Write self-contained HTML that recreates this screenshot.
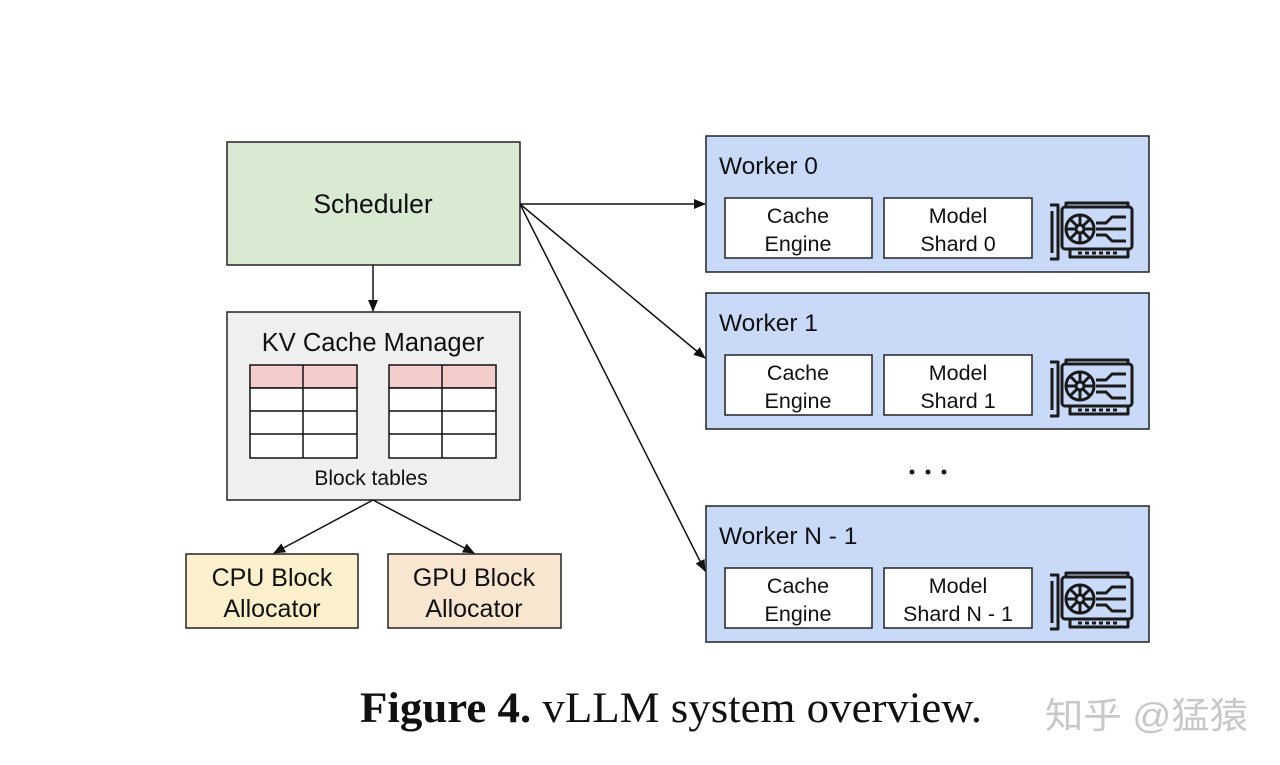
<!DOCTYPE html>
<html><head><meta charset="utf-8"><style>
html,body{margin:0;padding:0;background:#fff;}
svg{display:block;}
text{font-family:"Liberation Sans",Arial,sans-serif;fill:#111;}
</style></head><body>
<svg width="1280" height="765" viewBox="0 0 1280 765" xmlns="http://www.w3.org/2000/svg">
<defs>
<marker id="ah" markerWidth="12" markerHeight="10" refX="11" refY="5" orient="auto" markerUnits="userSpaceOnUse">
<path d="M0,0 L12,5 L0,10 Z" fill="#111"/>
</marker>
<g id="gpu" fill="none" stroke="#1a1a1a" stroke-width="3" stroke-linejoin="round">
<path d="M2,8 L10,8 L10,62 L2,62"/>
<path d="M4,14 L4,56"/>
<rect x="14" y="10" width="70" height="42" rx="3"/>
<path d="M18,10 L18,6 L80,6 L80,10"/>
<circle cx="32" cy="32" r="14"/>
<circle cx="32" cy="32" r="4"/>
<path d="M32,18 L32,28 M32,36 L32,46 M18,32 L28,32 M36,32 L46,32 M22,22 L29,29 M35,35 L42,42 M42,22 L35,29 M29,35 L22,42"/>
<path d="M48,26 L58,26 L64,20 L78,20 M48,32 L78,32 M48,38 L58,38 L64,44 L78,44"/>
<path d="M22,52 L22,60 L80,60 L80,52"/>
<path d="M30,56 L70,56" stroke-dasharray="4 3"/>
</g>
</defs>

<rect x="227" y="142" width="293" height="123" fill="#d9ead3" stroke="#222" stroke-width="1.5"/>
<text x="373" y="213" font-size="26.5" text-anchor="middle">Scheduler</text>

<rect x="227" y="312" width="293" height="188" fill="#efefef" stroke="#222" stroke-width="1.5"/>
<text x="373" y="351" font-size="25.5" text-anchor="middle">KV Cache Manager</text>
<g stroke="#111" stroke-width="1.5">
<rect x="250" y="365" width="107" height="23" fill="#f4cccc"/>
<rect x="250" y="388" width="107" height="70" fill="#fff"/>
<line x1="250" y1="411" x2="357" y2="411"/><line x1="250" y1="434" x2="357" y2="434"/>
<line x1="303" y1="365" x2="303" y2="458"/>
<rect x="389" y="365" width="107" height="23" fill="#f4cccc"/>
<rect x="389" y="388" width="107" height="70" fill="#fff"/>
<line x1="389" y1="411" x2="496" y2="411"/><line x1="389" y1="434" x2="496" y2="434"/>
<line x1="442" y1="365" x2="442" y2="458"/>
</g>
<text x="371" y="485" font-size="21" text-anchor="middle">Block tables</text>

<rect x="186" y="554" width="172" height="74" fill="#fcefcb" stroke="#222" stroke-width="1.5"/>
<text x="272" y="586" font-size="25" text-anchor="middle">CPU Block</text>
<text x="272" y="617" font-size="25" text-anchor="middle">Allocator</text>
<rect x="388" y="554" width="173" height="74" fill="#f9e6d0" stroke="#222" stroke-width="1.5"/>
<text x="474" y="586" font-size="25" text-anchor="middle">GPU Block</text>
<text x="474" y="617" font-size="25" text-anchor="middle">Allocator</text>

<g stroke="#111" stroke-width="1.5" marker-end="url(#ah)">
<line x1="373" y1="265" x2="373" y2="311"/>
<line x1="373" y1="500" x2="274" y2="553"/>
<line x1="373" y1="500" x2="474" y2="553"/>
<line x1="520" y1="204" x2="705" y2="204"/>
<line x1="520" y1="204" x2="705" y2="358"/>
<line x1="520" y1="204" x2="705" y2="571"/>
</g>

<g>
<rect x="706" y="136" width="443" height="136" fill="#c9daf8" stroke="#222" stroke-width="1.5"/>
<text x="719" y="174" font-size="24.5">Worker 0</text>
<rect x="725" y="198" width="147" height="60" fill="#fff" stroke="#222" stroke-width="1.5"/>
<text x="798" y="223" font-size="21.5" text-anchor="middle">Cache</text>
<text x="798" y="251" font-size="21.5" text-anchor="middle">Engine</text>
<rect x="884" y="198" width="148" height="60" fill="#fff" stroke="#222" stroke-width="1.5"/>
<text x="958" y="223" font-size="21.5" text-anchor="middle">Model</text>
<text x="958" y="251" font-size="21.5" text-anchor="middle">Shard 0</text>
<use href="#gpu" x="1048" y="197"/>
</g>
<g>
<rect x="706" y="293" width="443" height="136" fill="#c9daf8" stroke="#222" stroke-width="1.5"/>
<text x="719" y="331" font-size="24.5">Worker 1</text>
<rect x="725" y="355" width="147" height="60" fill="#fff" stroke="#222" stroke-width="1.5"/>
<text x="798" y="380" font-size="21.5" text-anchor="middle">Cache</text>
<text x="798" y="408" font-size="21.5" text-anchor="middle">Engine</text>
<rect x="884" y="355" width="148" height="60" fill="#fff" stroke="#222" stroke-width="1.5"/>
<text x="958" y="380" font-size="21.5" text-anchor="middle">Model</text>
<text x="958" y="408" font-size="21.5" text-anchor="middle">Shard 1</text>
<use href="#gpu" x="1048" y="354"/>
</g>
<g fill="#111"><circle cx="912" cy="472" r="2.5"/><circle cx="928" cy="472" r="2.5"/><circle cx="944" cy="472" r="2.5"/></g>
<g>
<rect x="706" y="506" width="443" height="136" fill="#c9daf8" stroke="#222" stroke-width="1.5"/>
<text x="719" y="544" font-size="24.5">Worker N - 1</text>
<rect x="725" y="568" width="147" height="60" fill="#fff" stroke="#222" stroke-width="1.5"/>
<text x="798" y="593" font-size="21.5" text-anchor="middle">Cache</text>
<text x="798" y="621" font-size="21.5" text-anchor="middle">Engine</text>
<rect x="884" y="568" width="148" height="60" fill="#fff" stroke="#222" stroke-width="1.5"/>
<text x="958" y="593" font-size="21.5" text-anchor="middle">Model</text>
<text x="958" y="621" font-size="21.5" text-anchor="middle">Shard N - 1</text>
<use href="#gpu" x="1048" y="567"/>
</g>

<text x="360" y="722" font-size="43" textLength="622" lengthAdjust="spacingAndGlyphs" style="font-family:'Liberation Serif',serif"><tspan font-weight="bold">Figure 4.</tspan> vLLM system overview.</text>
<text x="1045" y="728" font-size="36" textLength="203" lengthAdjust="spacingAndGlyphs" style="font-family:'Liberation Sans','Noto Sans CJK SC',sans-serif;fill:#c8c8c8">知乎 @猛猿</text>
</svg>
</body></html>
